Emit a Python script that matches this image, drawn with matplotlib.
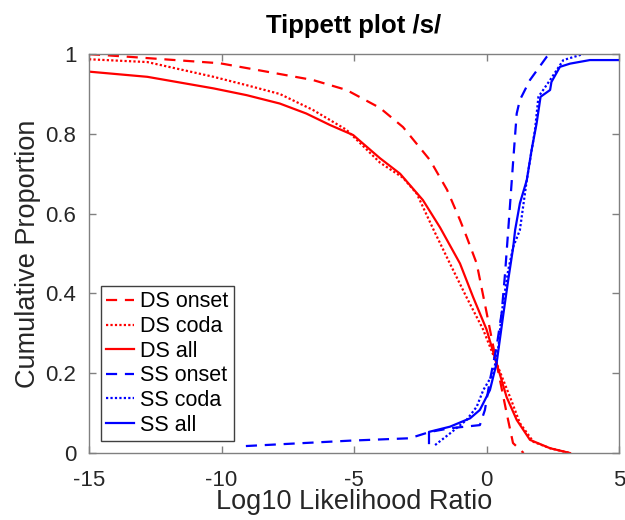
import matplotlib
matplotlib.use("Agg")
import matplotlib.pyplot as plt
from matplotlib.ticker import FuncFormatter

plt.rcParams['font.family'] = ['Liberation Sans', 'DejaVu Sans']
plt.rcParams['axes.unicode_minus'] = False

# DS onset
ds_onset_x = [-15, -13.45, -10.06, -8.3, -6.55, -5.28, -4.02, -3.15, -2.13, -1.49, -1.0, -0.75, -0.37, 0.01, 0.38, 0.76, 1.0, 1.4]
ds_onset_y = [1.0, 0.993, 0.977, 0.956, 0.935, 0.91, 0.865, 0.817, 0.734, 0.66, 0.584, 0.542, 0.475, 0.35, 0.225, 0.10, 0.025, 0.0]
# DS coda
ds_coda_x = [-15, -12.8, -10.3, -9.05, -7.8, -6.55, -5.28, -4.02, -3.15, -2.63, -2.0, -1.38, -0.75, -0.13, 0.38, 0.89, 1.26, 1.77, 2.4, 3.15]
ds_coda_y = [0.987, 0.98, 0.943, 0.922, 0.90, 0.86, 0.81, 0.728, 0.69, 0.65, 0.56, 0.475, 0.39, 0.31, 0.225, 0.14, 0.075, 0.028, 0.012, 0.0]
# DS all
ds_all_x = [-15, -12.8, -10.3, -9.05, -7.8, -6.8, -5.9, -5.03, -4.02, -3.26, -2.4, -1.75, -1.0, -0.5, 0.0, 0.38, 0.76, 1.14, 1.64, 2.4, 3.15]
ds_all_y = [0.956, 0.943, 0.914, 0.897, 0.876, 0.851, 0.822, 0.797, 0.739, 0.70, 0.634, 0.565, 0.475, 0.39, 0.31, 0.225, 0.14, 0.083, 0.033, 0.012, 0.0]
# SS onset
ss_onset_x = [-9.08, -5.15, -2.9, -2.13, -1.38, -0.25, -0.06, 0.13, 0.38, 0.57, 0.70, 0.82, 1.0, 1.14, 1.26, 1.64, 2.27, 2.4]
ss_onset_y = [0.0175, 0.031, 0.037, 0.053, 0.062, 0.07, 0.108, 0.183, 0.266, 0.35, 0.45, 0.559, 0.726, 0.851, 0.885, 0.935, 0.993, 1.0]
# SS coda
ss_coda_x = [-1.94, -1.38, -0.75, -0.37, -0.12, 0.26, 0.45, 0.57, 0.82, 1.01, 1.26, 1.52, 1.83, 1.96, 2.4, 2.9, 3.65]
ss_coda_y = [0.02, 0.049, 0.083, 0.116, 0.158, 0.20, 0.266, 0.35, 0.459, 0.517, 0.559, 0.684, 0.81, 0.893, 0.935, 0.985, 1.0]
# SS all
ss_all_x = [-2.17, -2.17, -1.38, -0.62, -0.25, 0.13, 0.38, 0.64, 0.82, 1.01, 1.08, 1.26, 1.52, 1.70, 1.89, 2.04, 2.4, 2.45, 2.77, 3.15, 3.9, 5.0]
ss_all_y = [0.025, 0.053, 0.066, 0.087, 0.108, 0.158, 0.225, 0.35, 0.434, 0.517, 0.559, 0.626, 0.684, 0.759, 0.826, 0.893, 0.91, 0.93, 0.968, 0.976, 0.985, 0.985]

fig = plt.figure(figsize=(6.25, 5.2), dpi=100)
ax = fig.add_axes([0.1424, 0.1288, 0.848, 0.7672])

lw = 1.6
ax.plot(ds_onset_x, ds_onset_y, color='#ff0000', ls=(0, (5, 3.5)), lw=lw, label='DS onset')
ax.plot(ds_coda_x, ds_coda_y, color='#ff0000', ls=(0, (1, 1)), lw=lw, label='DS coda')
ax.plot(ds_all_x, ds_all_y, color='#ff0000', ls='-', lw=lw, label='DS all')
ax.plot(ss_onset_x, ss_onset_y, color='#0000ff', ls=(0, (5, 3.5)), lw=lw, label='SS onset')
ax.plot(ss_coda_x, ss_coda_y, color='#0000ff', ls=(0, (1, 1)), lw=lw, label='SS coda')
ax.plot(ss_all_x, ss_all_y, color='#0000ff', ls='-', lw=lw, label='SS all')

ax.set_xlim(-15, 5)
ax.set_ylim(0, 1)
ax.set_xticks([-15, -10, -5, 0, 5])
ax.set_yticks([0, 0.2, 0.4, 0.6, 0.8, 1.0])
ax.yaxis.set_major_formatter(FuncFormatter(lambda v, p: '%g' % v))

gray = '#262626'
for s in ax.spines.values():
    s.set_color('#808080')
    s.set_linewidth(1.0)
ax.tick_params(direction='in', top=True, right=True, length=5, width=1.0,
               color='#808080', labelsize=16, labelcolor=gray)
ax.tick_params(axis='x', pad=12)
ax.tick_params(axis='y', pad=9)

ax.set_title('Tippett plot /s/', fontsize=18.5, fontweight='bold', color='black', pad=15)
ax.set_xlabel('Log10 Likelihood Ratio', fontsize=19.5, color=gray, labelpad=-1)
ax.set_ylabel('Cumulative Proportion', fontsize=19.5, color=gray, labelpad=3)

leg = ax.legend(loc='lower left', bbox_to_anchor=(0.022, 0.03), borderaxespad=0,
                fontsize=15.5, handlelength=1.3, handletextpad=0.3, labelspacing=0.17,
                borderpad=0.25, fancybox=False, framealpha=1, edgecolor='#404040')
leg.get_frame().set_linewidth(1.0)

fig.savefig('out.png', dpi=100)
